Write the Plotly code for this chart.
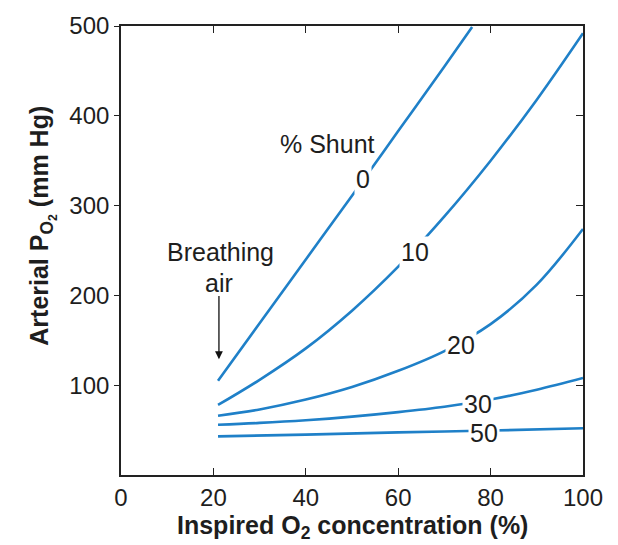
import plotly.graph_objects as go

# Arterial PO2 vs inspired O2 concentration for several shunt fractions
shunt_labels = ["0", "10", "20", "30", "50"]

x_shunt0 = [21, 30, 40, 50, 60, 70, 76]
y_shunt0 = [105, 169, 240, 311, 383, 455, 499]

x_shunt10 = [21, 30, 40, 50, 60, 70, 80, 90, 100]
y_shunt10 = [78, 106, 141, 183, 232, 288, 350, 418, 492]

x_shunt20 = [21, 30, 40, 50, 60, 70, 80, 90, 100]
y_shunt20 = [66, 73, 84, 98, 116, 138, 168, 212, 274]

x_shunt30 = [21, 30, 40, 50, 60, 70, 80, 90, 100]
y_shunt30 = [56, 58, 61, 65, 70, 76, 84, 95, 108]

x_shunt50 = [21, 40, 60, 80, 100]
y_shunt50 = [43, 45, 47.5, 49.5, 52]

# where each curve's value label sits (on the curve)
label_x = [52.4, 63.6, 73.6, 77.3, 78.6]
label_y = [330, 248, 145, 79, 47]

x_ticks = [0, 20, 40, 60, 80, 100]
y_ticks = [100, 200, 300, 400, 500]

LINE = "#1f80c8"
FONT = "Liberation Sans, Arial, Helvetica, sans-serif"
TXT = "#1e1e1e"
AXC = "#222"

fig = go.Figure()
curves = [(x_shunt0, y_shunt0), (x_shunt10, y_shunt10), (x_shunt20, y_shunt20),
          (x_shunt30, y_shunt30), (x_shunt50, y_shunt50)]
for (xs, ys), name in zip(curves, shunt_labels):
    fig.add_trace(go.Scatter(x=xs, y=ys, mode="lines", name=name,
                             line=dict(color=LINE, width=2.6, shape="spline", smoothing=1.0),
                             showlegend=False, hoverinfo="skip"))

# invisible trace on the right-hand axis so its inward ticks are drawn
fig.add_trace(go.Scatter(x=[0], y=[0], yaxis="y2", mode="markers",
                         marker=dict(opacity=0), showlegend=False, hoverinfo="skip"))

for lx, ly, t in zip(label_x, label_y, shunt_labels):
    fig.add_annotation(x=lx, y=ly, text=t, showarrow=False, bgcolor="white",
                       borderpad=1, font=dict(family=FONT, size=25, color=TXT))

fig.add_annotation(x=44.6, y=369, text="% Shunt", showarrow=False,
                   font=dict(family=FONT, size=25, color=TXT))
fig.add_annotation(x=21.6, y=248, text="Breathing", showarrow=False,
                   font=dict(family=FONT, size=25, color=TXT))
fig.add_annotation(x=21.2, y=214, text="air", showarrow=False,
                   font=dict(family=FONT, size=25, color=TXT))
fig.add_annotation(x=21.2, y=129, ax=21.2, ay=201, axref="x", ayref="y",
                   text="", showarrow=True, arrowhead=2, arrowsize=1.2,
                   arrowwidth=1.3, arrowcolor="#111")

# axis titles
fig.add_annotation(xref="paper", yref="paper", x=0.5, y=-0.115, yanchor="middle",
                   text="<b>Inspired O<sub>2</sub> concentration (%)</b>", showarrow=False,
                   font=dict(family=FONT, size=25, color=TXT))
fig.add_annotation(xref="paper", yref="paper", x=-0.169, y=0.555, xanchor="center",
                   yanchor="middle", textangle=-90,
                   text="<b>Arterial P<sub>O<sub>2</sub></sub> (mm Hg)</b>", showarrow=False,
                   font=dict(family=FONT, size=25, color=TXT))

tickfont = dict(family=FONT, size=24, color=TXT)

fig.update_layout(
    width=618, height=545,
    margin=dict(l=121, r=35, t=19, b=70),
    paper_bgcolor="white", plot_bgcolor="white",
    xaxis=dict(range=[0, 100], tickvals=x_ticks, ticks="inside", mirror="ticks",
               showline=True, linecolor=AXC, linewidth=1.6, showgrid=False, zeroline=False,
               tickcolor=AXC, tickwidth=1.4, ticklen=7, tickfont=tickfont),
    yaxis=dict(range=[0, 500], tickvals=y_ticks, ticks="outside", mirror=True,
               showline=True, linecolor=AXC, linewidth=1.6, showgrid=False, zeroline=False,
               tickcolor=AXC, tickwidth=1.4, ticklen=5, tickfont=tickfont),
    yaxis2=dict(range=[0, 500], overlaying="y", side="right", tickvals=y_ticks[:-1],
                ticks="inside", showticklabels=False, showline=False, showgrid=False,
                zeroline=False, tickcolor=AXC, tickwidth=1.4, ticklen=7),
)

fig.write_html("out.html")
